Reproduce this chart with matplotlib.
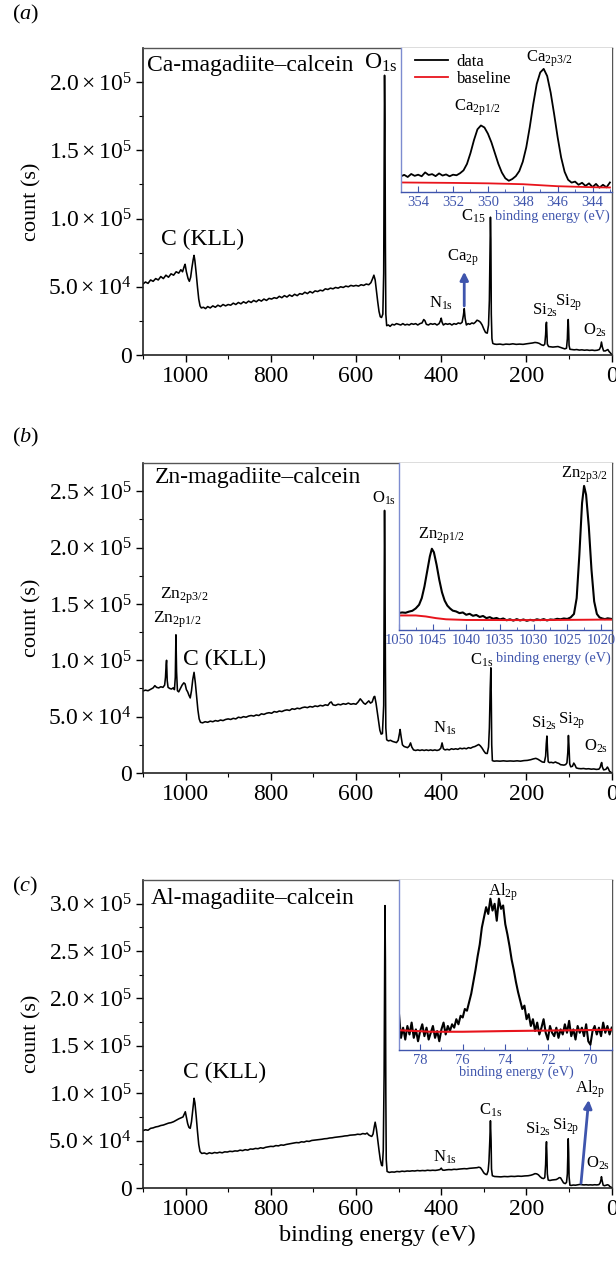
import matplotlib
matplotlib.use('Agg')
import matplotlib.pyplot as plt

plt.rcParams['font.family'] = ['Liberation Serif', 'DejaVu Serif']
plt.rcParams['mathtext.fontset'] = 'custom'
plt.rcParams['mathtext.rm'] = 'Liberation Serif'
plt.rcParams['mathtext.it'] = 'Liberation Serif:italic'
plt.rcParams['mathtext.bf'] = 'Liberation Serif:bold'
plt.rcParams['mathtext.default'] = 'regular'

# ---------------- data (counts in units of 1e4) ----------------
ca_x = [1100, 1094, 1088, 1082, 1076, 1070, 1064, 1058, 1052, 1046, 1040, 1034, 1028, 1022, 1016, 1011, 1007, 1003, 1001, 998, 994, 991, 988, 985, 982, 980, 978, 975, 972, 969, 966, 963, 958, 953, 948, 942, 936, 930, 924, 918, 912, 906, 900, 894, 888, 882, 876, 870, 864, 858, 852, 846, 840, 834, 828, 822, 816, 810, 804, 798, 792, 786, 780, 774, 768, 762, 756, 750, 744, 738, 732, 726, 720, 714, 708, 702, 696, 690, 684, 678, 672, 666, 660, 654, 648, 642, 636, 630, 624, 618, 612, 606, 600, 594, 588, 582, 576, 570, 565, 561, 558, 555, 552, 549, 546, 543, 540, 537, 535, 534, 533, 532, 531, 530, 528, 524, 520, 515, 510, 505, 500, 495, 490, 485, 480, 475, 470, 465, 460, 455, 450, 445, 441, 438, 435, 430, 425, 420, 415, 410, 405, 402, 400, 398, 395, 390, 385, 380, 375, 370, 365, 360, 355, 351, 348, 346, 344, 341, 337, 333, 328, 324, 320, 316, 312, 308, 304, 300, 296, 292, 289, 287, 285.5, 284.5, 283.5, 282.5, 281, 279, 275, 270, 262, 255, 248, 240, 232, 224, 216, 208, 200, 192, 186, 180, 175, 170, 165, 160, 157, 155, 154, 153, 152, 151, 148, 143, 138, 132, 126, 120, 115, 110, 106, 104, 103, 102, 101, 100, 98, 93, 88, 82, 76, 70, 64, 58, 52, 46, 40, 34, 29, 26, 24, 22, 19, 15, 12, 9, 6, 3, 0]
ca_y = [5.2, 5.35, 5.25, 5.5, 5.4, 5.6, 5.5, 5.75, 5.6, 5.85, 5.7, 5.95, 5.85, 6.1, 6.0, 6.25, 6.1, 6.5, 6.65, 6.1, 5.6, 5.4, 5.7, 6.4, 7.0, 7.3, 6.9, 6.0, 5.0, 4.1, 3.6, 3.45, 3.5, 3.4, 3.55, 3.45, 3.6, 3.5, 3.65, 3.55, 3.7, 3.6, 3.7, 3.65, 3.8, 3.7, 3.85, 3.75, 3.9, 3.8, 3.95, 3.85, 4.0, 3.9, 4.05, 3.95, 4.1, 4.0, 4.15, 4.1, 4.2, 4.15, 4.3, 4.2, 4.35, 4.25, 4.4, 4.3, 4.45, 4.35, 4.5, 4.45, 4.6, 4.5, 4.65, 4.55, 4.7, 4.65, 4.75, 4.7, 4.85, 4.8, 4.9, 4.85, 4.95, 4.9, 5.0, 4.95, 5.05, 5.0, 5.1, 5.05, 5.1, 5.05, 5.15, 5.1, 5.2, 5.15, 5.3, 5.6, 5.85, 5.5, 4.7, 3.9, 3.2, 2.8, 2.75, 3.0, 6.0, 14.0, 20.5, 17.0, 8.0, 3.0, 2.15, 2.2, 2.1, 2.25, 2.2, 2.3, 2.25, 2.2, 2.3, 2.2, 2.25, 2.2, 2.3, 2.25, 2.3, 2.2, 2.3, 2.35, 2.6, 2.5, 2.25, 2.2, 2.3, 2.25, 2.3, 2.2, 2.3, 2.5, 2.7, 2.4, 2.2, 2.3, 2.25, 2.3, 2.2, 2.3, 2.25, 2.35, 2.3, 2.4, 2.9, 3.4, 2.7, 2.2, 2.3, 2.25, 2.35, 2.3, 2.4, 2.55, 2.5, 2.4, 2.2, 1.9, 1.65, 1.6, 2.2, 4.0, 8.0, 10.1, 8.5, 3.0, 1.2, 0.85, 0.8, 0.78, 0.8, 0.76, 0.8, 0.78, 0.82, 0.78, 0.8, 0.78, 0.82, 0.85, 0.88, 0.92, 0.9, 0.85, 0.75, 0.7, 0.8, 1.5, 2.2, 2.4, 1.6, 0.8, 0.62, 0.6, 0.58, 0.6, 0.62, 0.55, 0.5, 0.45, 0.5, 1.2, 2.2, 2.6, 1.8, 0.7, 0.42, 0.4, 0.38, 0.4, 0.36, 0.38, 0.35, 0.37, 0.34, 0.36, 0.33, 0.35, 0.4, 0.6, 0.95, 0.6, 0.3, 0.3, 0.35, 0.4, 0.25, 0.15, 0.05]

zn_x = [1100, 1094, 1088, 1082, 1076, 1072, 1068, 1063, 1058, 1053, 1049, 1047, 1045.5, 1044.5, 1043, 1041, 1037, 1033, 1029, 1026, 1024, 1022.5, 1021, 1019, 1016, 1012, 1008, 1004, 1001, 998, 995, 992, 989, 986, 983, 980, 977, 974, 971, 968, 965, 960, 954, 948, 942, 936, 930, 924, 918, 912, 906, 900, 894, 888, 882, 876, 870, 864, 858, 852, 846, 840, 834, 828, 822, 816, 810, 804, 798, 792, 786, 780, 774, 768, 762, 756, 750, 744, 738, 732, 726, 720, 714, 708, 702, 696, 690, 684, 678, 672, 666, 661, 658, 654, 648, 642, 636, 630, 624, 618, 612, 606, 600, 595, 590, 586, 582, 578, 574, 570, 566, 562, 558, 556, 553, 550, 547, 544, 541, 538, 535, 534, 533, 532, 531, 530, 528, 524, 519, 514, 509, 505, 501, 498, 496.5, 494, 491, 487, 483, 479, 475, 472, 469, 465, 460, 455, 450, 445, 440, 435, 430, 425, 420, 415, 410, 405, 401, 398, 395, 391, 386, 381, 376, 371, 366, 361, 356, 351, 346, 341, 336, 331, 326, 321, 316, 312, 308, 304, 300, 296, 292, 289, 287, 285, 283.5, 282.5, 281.5, 280, 276, 270, 262, 254, 246, 238, 230, 222, 214, 206, 198, 190, 184, 178, 173, 168, 163, 158, 155, 153.5, 152, 150.5, 149, 146, 142, 137, 132, 128, 124, 120, 116, 112, 108, 105, 103, 101.5, 100, 98.5, 96, 92, 89, 86, 83, 78, 72, 66, 60, 54, 48, 42, 36, 30, 27, 25, 23.5, 22, 19, 16, 13, 10, 8, 5, 2, 0]
zn_y = [7.28, 7.35, 7.3, 7.42, 7.55, 7.75, 7.6, 7.55, 7.65, 7.6, 7.8, 8.5, 9.6, 10.0, 8.2, 7.6, 7.5, 7.45, 7.55, 7.4, 8.5, 12.26, 9.0, 7.3, 7.2, 7.5, 7.8, 8.0, 7.9, 7.4, 7.2, 6.9, 6.66, 7.3, 8.3, 8.93, 8.0, 6.8, 5.6, 4.8, 4.5, 4.45, 4.55, 4.5, 4.6, 4.55, 4.65, 4.6, 4.7, 4.65, 4.75, 4.8, 4.75, 4.85, 4.8, 4.95, 4.9, 5.0, 4.95, 5.05, 5.1, 5.05, 5.15, 5.1, 5.25, 5.2, 5.3, 5.35, 5.3, 5.45, 5.4, 5.5, 5.45, 5.55, 5.6, 5.55, 5.7, 5.65, 5.75, 5.7, 5.8, 5.85, 5.8, 5.9, 5.85, 5.95, 5.9, 6.0, 5.95, 6.05, 6.0, 6.25, 6.3, 6.05, 6.0, 6.1, 6.05, 6.15, 6.1, 6.2, 6.1, 6.15, 6.1, 6.3, 6.58, 6.4, 6.2, 6.1, 6.25, 6.4, 6.2, 6.3, 6.75, 6.8, 6.2, 5.4, 4.6, 3.8, 3.45, 3.5, 6.0, 15.0, 23.3, 18.0, 9.5, 4.0, 2.95, 2.85, 2.9, 2.8, 2.75, 2.7, 2.9, 3.5, 3.86, 3.2, 2.5, 2.35, 2.3, 2.25, 2.4, 2.67, 2.3, 2.05, 2.0, 2.05, 2.0, 2.05, 2.0, 2.05, 2.0, 2.05, 2.0, 2.05, 2.0, 2.05, 2.2, 2.67, 2.15, 2.05, 2.1, 2.05, 2.15, 2.1, 2.15, 2.1, 2.2, 2.15, 2.2, 2.15, 2.25, 2.2, 2.3, 2.35, 2.45, 2.53, 2.4, 2.2, 1.95, 1.75, 1.73, 2.3, 4.0, 7.5, 9.33, 6.5, 2.5, 1.1, 1.05, 1.07, 1.05, 1.08, 1.05, 1.07, 1.05, 1.08, 1.05, 1.1, 1.12, 1.18, 1.25, 1.3, 1.22, 1.1, 0.98, 0.95, 1.5, 2.6, 3.28, 2.0, 1.0, 0.92, 0.95, 0.9, 0.98, 0.9, 0.85, 0.74, 0.72, 0.7, 0.75, 0.9, 1.8, 3.33, 2.2, 0.8, 0.55, 0.6, 0.88, 0.7, 0.45, 0.4, 0.38, 0.4, 0.36, 0.38, 0.34, 0.36, 0.32, 0.34, 0.5, 0.8, 0.93, 0.55, 0.28, 0.3, 0.35, 0.53, 0.4, 0.15, 0.08, 0.0]

al_x = [1100, 1094, 1088, 1082, 1076, 1070, 1064, 1058, 1052, 1046, 1040, 1034, 1028, 1022, 1016, 1011, 1006, 1003, 1000.5, 998, 995, 992, 989, 986, 983, 980, 978, 975, 972, 969, 966, 962, 956, 950, 944, 938, 932, 926, 920, 914, 908, 902, 896, 890, 884, 878, 872, 866, 860, 854, 848, 842, 836, 830, 824, 818, 812, 806, 800, 794, 788, 782, 776, 770, 764, 758, 752, 746, 740, 734, 728, 722, 716, 710, 704, 698, 692, 686, 680, 674, 668, 662, 656, 650, 644, 638, 632, 626, 620, 614, 608, 602, 596, 590, 584, 578, 574, 570, 566, 563, 560, 557, 555, 552, 549, 546, 543, 540, 538, 536, 534, 533, 532, 531, 530, 529, 527, 522, 516, 510, 504, 498, 492, 486, 480, 474, 468, 462, 456, 450, 444, 438, 432, 426, 420, 414, 408, 403, 400, 397, 393, 388, 382, 376, 370, 364, 358, 352, 346, 340, 334, 328, 322, 316, 312, 308, 304, 300, 296, 293, 290, 288, 286, 284.5, 283, 282, 280, 275, 268, 260, 252, 244, 236, 228, 220, 212, 204, 196, 190, 185, 180, 176, 172, 168, 164, 160, 157, 155, 154, 153, 152, 151, 149, 145, 140, 135, 130, 126, 123, 120, 117, 113, 109, 106, 104, 103, 102, 101, 100, 98, 95, 90, 85, 80, 75, 70, 65, 60, 55, 50, 45, 40, 35, 30, 27, 25, 24, 22.5, 20, 17, 13, 10, 7, 4, 0]
al_y = [6.06, 6.15, 6.1, 6.3, 6.35, 6.45, 6.5, 6.6, 6.65, 6.75, 6.85, 6.9, 7.0, 7.15, 7.3, 7.4, 7.5, 7.8, 8.05, 7.5, 6.8, 6.4, 6.3, 7.0, 8.2, 9.47, 9.0, 7.6, 6.0, 4.6, 3.85, 3.65, 3.7, 3.6, 3.72, 3.65, 3.75, 3.7, 3.78, 3.72, 3.82, 3.8, 3.88, 3.85, 3.92, 3.9, 4.0, 3.95, 4.05, 4.0, 4.12, 4.1, 4.18, 4.15, 4.25, 4.2, 4.3, 4.35, 4.4, 4.38, 4.48, 4.45, 4.55, 4.52, 4.6, 4.65, 4.7, 4.75, 4.8, 4.78, 4.88, 4.85, 4.95, 4.92, 5.02, 5.05, 5.08, 5.12, 5.15, 5.2, 5.22, 5.28, 5.3, 5.35, 5.38, 5.42, 5.45, 5.5, 5.52, 5.58, 5.6, 5.62, 5.68, 5.65, 5.75, 5.7, 5.8, 5.6, 5.5, 5.45, 5.7, 6.5, 6.95, 6.2, 5.1, 4.0, 3.0, 2.4, 2.35, 4.0, 12.0, 22.0, 29.8, 24.0, 10.0, 3.0, 1.75, 1.65, 1.7, 1.68, 1.75, 1.72, 1.78, 1.75, 1.8, 1.78, 1.82, 1.8, 1.85, 1.82, 1.85, 1.83, 1.88, 1.85, 1.88, 1.86, 1.9, 1.95, 2.1, 1.9, 1.88, 1.92, 1.95, 1.93, 1.98, 1.96, 2.0, 2.02, 2.05, 2.03, 2.08, 2.1, 2.12, 2.15, 2.2, 2.15, 1.9, 1.6, 1.45, 1.42, 1.8, 2.8, 5.0, 7.1, 5.0, 2.0, 1.3, 1.22, 1.2, 1.18, 1.22, 1.2, 1.24, 1.22, 1.26, 1.24, 1.28, 1.3, 1.35, 1.42, 1.52, 1.5, 1.4, 1.2, 1.05, 1.0, 1.1, 2.5, 4.2, 4.89, 3.5, 1.5, 0.85, 0.8, 0.85, 0.88, 0.9, 1.0, 1.1, 1.08, 0.85, 0.55, 0.47, 0.6, 1.5, 3.5, 5.2, 3.8, 1.2, 0.3, 0.28, 0.32, 0.3, 0.34, 0.38, 0.36, 0.33, 0.35, 0.32, 0.34, 0.32, 0.35, 0.33, 0.36, 0.55, 0.9, 1.2, 0.8, 0.3, 0.25, 0.3, 0.35, 0.3, 0.15, 0.06]

# ---------------- inset data (arbitrary intensity) ----------------
ca_in_x = [355.0, 354.8, 354.6, 354.4, 354.2, 354.0, 353.8, 353.6, 353.4, 353.2, 353.0, 352.8, 352.6, 352.4, 352.2, 352.0, 351.8, 351.6, 351.4, 351.2, 351.0, 350.8, 350.6, 350.4, 350.2, 350.0, 349.8, 349.6, 349.4, 349.2, 349.0, 348.8, 348.6, 348.4, 348.2, 348.0, 347.8, 347.6, 347.4, 347.2, 347.0, 346.8, 346.6, 346.4, 346.2, 346.0, 345.8, 345.6, 345.4, 345.2, 345.0, 344.8, 344.6, 344.4, 344.2, 344.0, 343.8, 343.6, 343.4, 343.2, 343.0]
ca_in_y = [10.8, 11.9, 10.4, 12.5, 11.2, 12.0, 10.9, 13.6, 11.8, 12.4, 11.0, 12.9, 11.4, 12.2, 10.9, 12.0, 11.6, 13.0, 15.0, 19.5, 27.0, 36.0, 43.5, 46.2, 44.8, 40.5, 34.5, 27.0, 19.5, 13.5, 9.5, 7.8, 9.0, 11.0, 14.5, 21.0, 31.0, 45.0, 61.0, 75.0, 83.0, 85.5, 80.5, 69.0, 54.0, 38.0, 24.0, 14.0, 8.5, 6.5, 7.2, 5.0, 6.4, 4.2, 6.0, 3.4, 5.6, 3.0, 5.0, 3.2, 6.6]
ca_base_x = [355, 352, 350, 348, 346, 344, 343]
ca_base_y = [6.6, 6.3, 6.0, 5.4, 4.0, 3.3, 3.1]

zn_in_x = [1050, 1049.5, 1049, 1048.5, 1048, 1047.5, 1047, 1046.6, 1046.2, 1045.8, 1045.4, 1045.1, 1044.8, 1044.4, 1044, 1043.6, 1043.2, 1042.8, 1042.4, 1042, 1041.5, 1041, 1040.5, 1040, 1039.5, 1039, 1038.5, 1038, 1037.5, 1037, 1036.5, 1036, 1035.5, 1035, 1034.5, 1034, 1033.5, 1033, 1032.5, 1032, 1031.5, 1031, 1030.5, 1030, 1029.5, 1029, 1028.5, 1028, 1027.5, 1027, 1026.5, 1026, 1025.5, 1025, 1024.5, 1024, 1023.6, 1023.2, 1022.8, 1022.5, 1022.2, 1021.8, 1021.4, 1021.0, 1020.6, 1020.2, 1019.8, 1019.4, 1019, 1018.4]
zn_in_y = [10.1, 10.4, 10.2, 10.9, 11.4, 12.8, 15.0, 19.0, 26.0, 35.0, 44.0, 48.6, 46.5, 39.0, 30.0, 22.5, 17.5, 14.5, 12.8, 11.5, 11.0, 10.0, 10.4, 9.0, 9.6, 8.4, 8.9, 7.7, 8.3, 7.0, 7.6, 6.6, 7.1, 6.2, 6.8, 5.7, 6.3, 5.5, 6.4, 5.6, 6.2, 5.4, 6.0, 5.6, 6.3, 5.8, 6.4, 5.6, 6.2, 6.0, 6.6, 6.3, 6.8, 6.5, 7.4, 9.5, 19.0, 45.0, 76.0, 86.3, 81.0, 62.0, 36.0, 17.0, 9.5, 7.4, 6.8, 6.4, 6.9, 6.5]
zn_base_x = [1050, 1047.5, 1046, 1044.5, 1043, 1040, 1030, 1020, 1018.4]
zn_base_y = [8.6, 8.6, 8.0, 7.0, 6.3, 5.9, 5.8, 6.1, 6.1]

al_in_x = [79.0, 78.9, 78.8, 78.7, 78.6, 78.5, 78.4, 78.3, 78.2, 78.1, 78.0, 77.9, 77.8, 77.7, 77.6, 77.5, 77.4, 77.3, 77.2, 77.1, 77.0, 76.9, 76.8, 76.7, 76.6, 76.5, 76.4, 76.3, 76.2, 76.1, 76.0, 75.9, 75.8, 75.7, 75.6, 75.5, 75.4, 75.3, 75.2, 75.1, 75.0, 74.9, 74.8, 74.7, 74.6, 74.5, 74.4, 74.3, 74.2, 74.1, 74.0, 73.9, 73.8, 73.7, 73.6, 73.5, 73.4, 73.3, 73.2, 73.1, 73.0, 72.9, 72.8, 72.7, 72.6, 72.5, 72.4, 72.3, 72.2, 72.1, 72.0, 71.9, 71.8, 71.7, 71.6, 71.5, 71.4, 71.3, 71.2, 71.1, 71.0, 70.9, 70.8, 70.7, 70.6, 70.5, 70.4, 70.3, 70.2, 70.1, 70.0, 69.9, 69.8, 69.7, 69.6, 69.5, 69.4, 69.3, 69.2, 69.1, 69.0]
al_in_y = [22, 7, 13, 6, 14, 9, 16, 7, 12, 5, 11, 15, 8, 13, 6, 10, 14, 7, 11, 5, 12, 16, 9, 14, 11, 15, 13, 18, 15, 20, 19, 24, 23, 28, 33, 40, 47, 55, 62, 72, 78, 84, 80, 89, 82, 86, 76, 89, 83, 85, 74, 68, 61, 53, 47, 40, 34, 29, 24, 26, 18, 21, 14, 18, 11, 16, 9, 13, 18, 10, 6, 14, 10, 8, 13, 7, 12, 9, 15, 10, 17, 8, 12, 6, 14, 10, 13, 8, 15, 5, 3, 11, 14, 9, 13, 8, 16, 10, 14, 9, 13]
al_base_x = [79, 77.5, 76, 74, 72, 70, 69]
al_base_y = [11.5, 10.6, 10.6, 11.0, 11.3, 11.6, 11.8]

# ---------------- ticks ----------------
x_ticks = [1000, 800, 600, 400, 200, 0]
x_tick_labels = ['1000', '800', '600', '400', '200', '0']
y_ticks_a = [0, 5, 10, 15, 20]
y_labels_a = ['0', r'$5.0\times10^{4}$', r'$1.0\times10^{5}$', r'$1.5\times10^{5}$', r'$2.0\times10^{5}$']
y_ticks_b = [0, 5, 10, 15, 20, 25]
y_labels_b = y_labels_a + [r'$2.5\times10^{5}$']
y_ticks_c = [0, 5, 10, 15, 20, 25, 30]
y_labels_c = y_labels_b + [r'$3.0\times10^{5}$']

BLUE = '#3f55ad'
BLUE_SP = '#7d8cd0'

fig = plt.figure(figsize=(6.16, 12.83), dpi=100)
L, W = 0.232, 0.761
ax_a = fig.add_axes([L, 0.7233, W, 0.2393])
ax_b = fig.add_axes([L, 0.3975, W, 0.2416])
ax_c = fig.add_axes([L, 0.0740, W, 0.2401])


def style_main(ax, yt, yl, ymax):
    ax.set_xlim(1100, 0)
    ax.set_ylim(0, ymax)
    ax.set_xticks(x_ticks, x_tick_labels)
    ax.set_xticks([1100, 900, 700, 500, 300, 100], minor=True)
    ax.set_yticks(yt, yl)
    ax.set_yticks([v + 2.5 for v in yt if v + 2.5 < ymax], minor=True)
    ax.tick_params(axis='both', which='major', direction='out', length=5, width=1, labelsize=17, pad=3)
    ax.tick_params(axis='both', which='minor', direction='out', length=3, width=0.8)
    ax.set_ylabel('count (s)', fontsize=16, labelpad=5)
    for s in ['left', 'bottom']:
        ax.spines[s].set_linewidth(1.2)
        ax.spines[s].set_color('#222222')
    for s in ['top', 'right']:
        ax.spines[s].set_linewidth(1.0)
        ax.spines[s].set_color('#555555')


def style_inset(ins, xlim, major, minor, xlab_pos):
    ins.set_xlim(*xlim)
    ins.set_ylim(0, 100)
    ins.set_xticks(major)
    ins.set_xticks(minor, minor=True)
    ins.set_yticks([])
    ins.tick_params(axis='x', which='both', direction='in', colors=BLUE, labelcolor=BLUE, labelsize=10.5, pad=3)
    ins.tick_params(axis='x', which='major', length=4)
    ins.tick_params(axis='x', which='minor', length=2.5)
    ins.spines['top'].set_visible(False)
    ins.spines['right'].set_visible(False)
    ins.spines['left'].set_color(BLUE_SP)
    ins.spines['bottom'].set_color(BLUE)
    ins.spines['left'].set_linewidth(1.0)
    ins.spines['bottom'].set_linewidth(1.0)
    ins.set_xlabel('binding energy (eV)', color=BLUE, fontsize=10.2)
    ins.xaxis.set_label_coords(xlab_pos[0], xlab_pos[1])


def arrow(ax, x0, y0, x1, y1):
    ax.annotate('', xy=(x1, y1), xytext=(x0, y0),
                arrowprops=dict(arrowstyle='-|>', color=BLUE, lw=2.0, mutation_scale=12, shrinkA=0, shrinkB=0))


# ---------- panel a ----------
ax_a.plot(ca_x, ca_y, color='black', lw=1.15)
style_main(ax_a, y_ticks_a, y_labels_a, 22.5)
ax_a.text(1091, 21.2, 'Ca-magadiite–calcein', fontsize=17, ha='left', va='center')
ax_a.text(543, 21.4, 'O$_{1s}$', fontsize=17, ha='center', va='center')
ax_a.text(1058, 8.5, 'C (KLL)', fontsize=17, ha='left', va='center')
ax_a.text(324, 10.15, 'C$_{15}$', fontsize=12, ha='center', va='center')
ax_a.text(400, 3.8, 'N$_{1s}$', fontsize=12, ha='center', va='center')
ax_a.text(348, 7.1, 'Ca$_{2p}$', fontsize=12, ha='center', va='center')
ax_a.text(157, 3.3, 'Si$_{2s}$', fontsize=12, ha='center', va='center')
ax_a.text(102, 3.8, 'Si$_{2p}$', fontsize=12, ha='center', va='center')
ax_a.text(39, 1.8, 'O$_{2s}$', fontsize=12, ha='center', va='center')
arrow(ax_a, 346, 3.6, 346, 6.1)
fig.text(0.02, 0.989, '($\\it{a}$)', fontsize=16, ha='left', va='center')

ins_a = ax_a.inset_axes([0.55, 0.531, 0.45, 0.469])
ins_a.plot(ca_in_x, ca_in_y, color='black', lw=1.3, label='data')
ins_a.plot(ca_base_x, ca_base_y, color='#e8141c', lw=1.3, label='baseline')
style_inset(ins_a, (355, 342.9), [354, 352, 350, 348, 346, 344],
            [355, 353, 351, 349, 347, 345, 343], (0.72, -0.125))
ins_a.legend(loc='upper left', bbox_to_anchor=(0.02, 1.03), frameon=False, fontsize=12,
             handlelength=2.0, handletextpad=0.5, labelspacing=0.1, borderaxespad=0.2)
ins_a.text(350.6, 58.5, 'Ca$_{2p1/2}$', fontsize=12, ha='center', va='center')
ins_a.text(346.5, 92.7, 'Ca$_{2p3/2}$', fontsize=12, ha='center', va='center')

# ---------- panel b ----------
ax_b.plot(zn_x, zn_y, color='black', lw=1.15)
style_main(ax_b, y_ticks_b, y_labels_b, 27.5)
ax_b.text(1072, 26.2, 'Zn-magadiite–calcein', fontsize=17, ha='left', va='center')
ax_b.text(533, 24.4, 'O$_{1s}$', fontsize=12, ha='center', va='center')
ax_b.text(1003, 15.7, 'Zn$_{2p3/2}$', fontsize=12.5, ha='center', va='center')
ax_b.text(1020, 13.6, 'Zn$_{2p1/2}$', fontsize=12.5, ha='center', va='center')
ax_b.text(1005, 10.1, 'C (KLL)', fontsize=17, ha='left', va='center')
ax_b.text(306, 10.0, 'C$_{1s}$', fontsize=12, ha='center', va='center')
ax_b.text(391, 4.0, 'N$_{1s}$', fontsize=12, ha='center', va='center')
ax_b.text(159, 4.4, 'Si$_{2s}$', fontsize=12, ha='center', va='center')
ax_b.text(93, 4.66, 'Si$_{2p}$', fontsize=12, ha='center', va='center')
ax_b.text(36, 2.4, 'O$_{2s}$', fontsize=12, ha='center', va='center')
fig.text(0.02, 0.659, '($\\it{b}$)', fontsize=16, ha='left', va='center')

ins_b = ax_b.inset_axes([0.546, 0.462, 0.454, 0.538])
ins_b.plot(zn_in_x, zn_in_y, color='black', lw=1.5)
ins_b.plot(zn_base_x, zn_base_y, color='#e8141c', lw=1.4)
style_inset(ins_b, (1050, 1018.4), [1050, 1045, 1040, 1035, 1030, 1025, 1020],
            [1047.5, 1042.5, 1037.5, 1032.5, 1027.5, 1022.5], (0.725, -0.128))
ins_b.text(1043.7, 56.3, 'Zn$_{2p1/2}$', fontsize=12, ha='center', va='center')
ins_b.text(1022.5, 93.2, 'Zn$_{2p3/2}$', fontsize=12, ha='center', va='center')

# ---------- panel c ----------
ax_c.plot(al_x, al_y, color='black', lw=1.15)
style_main(ax_c, y_ticks_c, y_labels_c, 32.5)
ax_c.set_xlabel('binding energy (eV)', fontsize=17.5, labelpad=3)
ax_c.text(1081, 30.6, 'Al-magadiite–calcein', fontsize=17, ha='left', va='center')
ax_c.text(1007, 12.2, 'C (KLL)', fontsize=17, ha='left', va='center')
ax_c.text(390, 3.2, 'N$_{1s}$', fontsize=12, ha='center', va='center')
ax_c.text(283, 8.2, 'C$_{1s}$', fontsize=12, ha='center', va='center')
ax_c.text(173, 6.2, 'Si$_{2s}$', fontsize=12, ha='center', va='center')
ax_c.text(109, 6.5, 'Si$_{2p}$', fontsize=12, ha='center', va='center')
ax_c.text(33, 2.6, 'O$_{2s}$', fontsize=12, ha='center', va='center')
ax_c.text(51, 10.4, 'Al$_{2p}$', fontsize=12, ha='center', va='center')
arrow(ax_c, 72, 0.5, 54, 9.3)
fig.text(0.02, 0.309, '($\\it{c}$)', fontsize=16, ha='left', va='center')

ins_c = ax_c.inset_axes([0.546, 0.449, 0.454, 0.551])
ins_c.plot(al_in_x, al_in_y, color='black', lw=1.5)
ins_c.plot(al_base_x, al_base_y, color='#e8141c', lw=1.5)
style_inset(ins_c, (79, 69), [78, 76, 74, 72, 70], [79, 77, 75, 73, 71, 69], (0.552, -0.093))
ins_c.text(74.1, 93, 'Al$_{2p}$', fontsize=12, ha='center', va='center')

fig.savefig('out.png', dpi=100)
